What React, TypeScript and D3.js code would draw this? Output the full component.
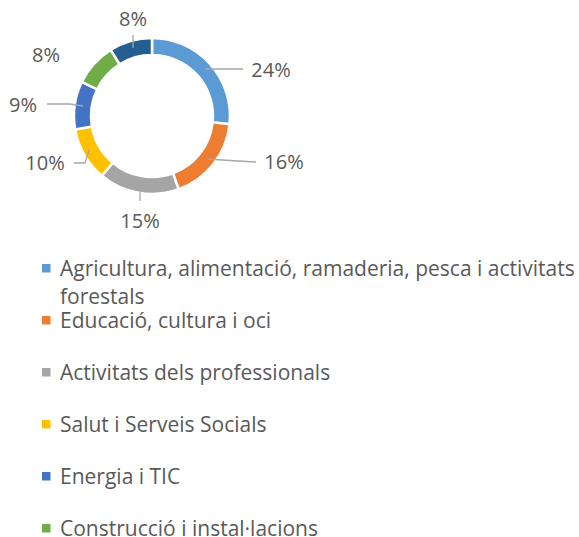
import React from "react";
import * as d3 from "d3";

const categories = [
  "Agricultura, alimentació, ramaderia, pesca i activitats forestals",
  "Educació, cultura i oci",
  "Activitats dels professionals",
  "Salut i Serveis Socials",
  "Energia i TIC",
  "Construcció i instal·lacions",
  "Altres",
];
const values = [24, 16, 15, 10, 9, 8, 8];
const colors = ["#5B9BD5", "#ED7D31", "#A5A5A5", "#FFC000", "#4472C4", "#70AD47", "#255E91"];

// label layout (annotation placement)
const labelPos: [number, number][] = [
  [271, 77], [284, 169], [140, 228], [45, 170], [23, 112], [46, 62], [133, 26],
];
const leaderLines: [number, number][][] = [
  [[205, 69], [243, 69]],
  [[207, 159], [238, 161], [256, 162]],
  [[140, 192], [140, 201]],
  [[74, 163], [85, 163], [89, 150]],
  [[47, 104], [70, 104], [83, 106]],
  [],
  [[133, 35], [133, 48]],
];
const legendLines = [
  ["Agricultura, alimentació, ramaderia, pesca i activitats", "forestals"],
  ["Educació, cultura i oci"],
  ["Activitats dels professionals"],
  ["Salut i Serveis Socials"],
  ["Energia i TIC"],
  ["Construcció i instal·lacions"],
];

const FONT = "'Open Sans', Lato, sans-serif";
const TEXT = "#595959";

export default function App() {
  const W = 579, H = 537;
  const cx = 152, cy = 116;
  const pie = d3.pie<number>().sort(null).value((d) => d)(values);
  const arc = d3.arc<d3.PieArcDatum<number>>().innerRadius(61).outerRadius(78);
  const line = d3.line();
  return (
    <svg width={W} height={H} style={{ position: "absolute", left: 0, top: 0, background: "#fff" }} fontFamily={FONT}>
      <g transform={`translate(${cx},${cy})`}>
        {pie.map((p, i) => (
          <path key={i} d={arc(p) || ""} fill={colors[i]} stroke="#fff" strokeWidth={2.5} />
        ))}
      </g>
      {leaderLines.map((pts, i) =>
        pts.length ? (
          <path key={i} d={line(pts) || ""} fill="none" stroke="#A6A6A6" strokeWidth={1.3} />
        ) : null
      )}
      {values.map((v, i) => (
        <text key={i} x={labelPos[i][0]} y={labelPos[i][1]} textAnchor="middle" fontSize={20} fill={TEXT}>
          {v}%
        </text>
      ))}
      {legendLines.map((lines, i) => {
        const base = 276 + i * 52;
        return (
          <g key={i}>
            <rect x={42} y={base - 12} width={8.5} height={8.5} fill={colors[i]} />
            {lines.map((t, j) => (
              <text key={j} x={60} y={base + j * 28} fontSize={21} fill={TEXT}>
                {t}
              </text>
            ))}
          </g>
        );
      })}
    </svg>
  );
}
